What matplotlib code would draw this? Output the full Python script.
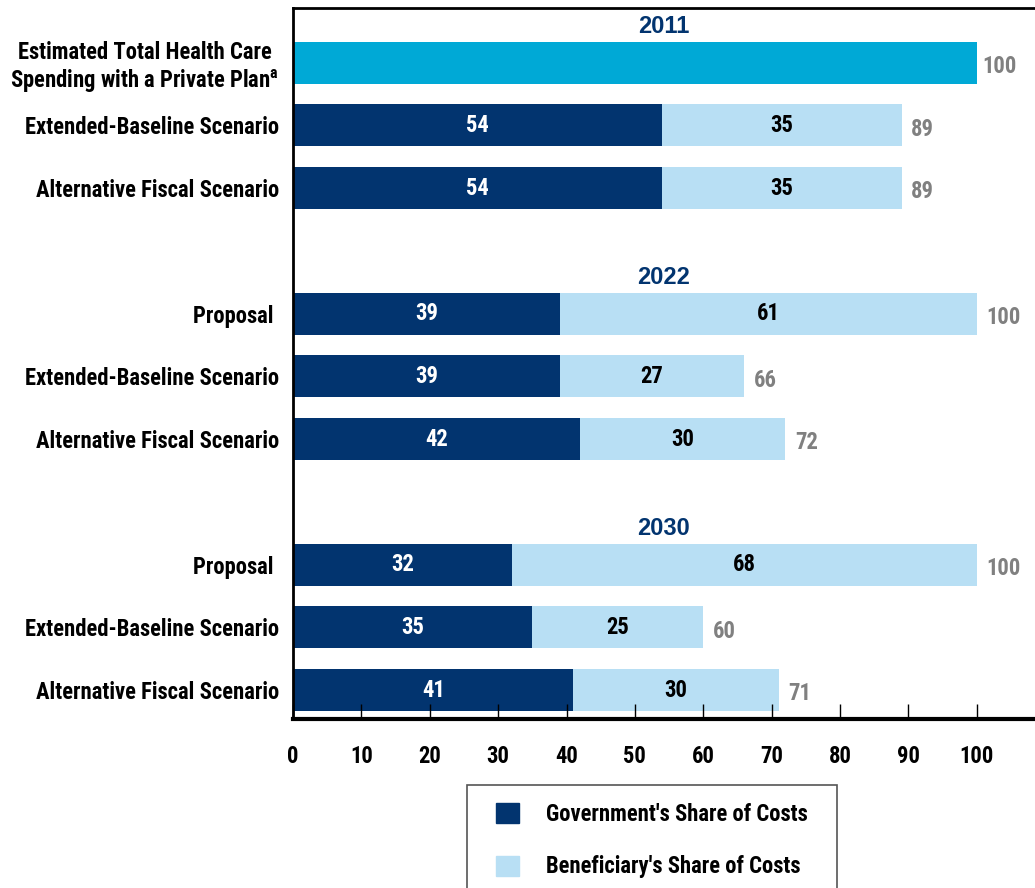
import matplotlib
matplotlib.use("Agg")
import matplotlib.pyplot as plt
from matplotlib.patches import Patch, Rectangle
from matplotlib import font_manager

names = set(f.name for f in font_manager.fontManager.ttflist)
if "Liberation Sans Narrow" in names:
    FONT = ["Liberation Sans Narrow", "DejaVu Sans"]
else:
    FONT = ["Roboto Condensed", "Liberation Sans", "DejaVu Sans"]

plt.rcParams['font.family'] = FONT
plt.rcParams['font.weight'] = 'bold'
plt.rcParams['mathtext.fontset'] = 'custom'
plt.rcParams['mathtext.rm'] = FONT[0] + ':bold'

# data
years = ["2011", "2022", "2030"]
row_labels = ["Estimated Total Health Care\nSpending with a Private Plan$^{\\mathrm{a}}$",
              "Extended-Baseline Scenario", "Alternative Fiscal Scenario",
              "Proposal ", "Extended-Baseline Scenario", "Alternative Fiscal Scenario",
              "Proposal ", "Extended-Baseline Scenario", "Alternative Fiscal Scenario"]
private_plan = 100
gov_share = [54, 54, 39, 39, 42, 32, 35, 41]
ben_share = [35, 35, 61, 27, 30, 68, 25, 30]

NAVY = "#02346f"
LIGHT = "#b8dff4"
CYAN = "#00a9d6"
GRAY = "#808080"
FS = 16.3

ypos = [0, 1, 2, 4, 5, 6, 8, 9, 10]
header_y = [-0.57, 3.42, 7.43]
h = 0.667

fig = plt.figure(figsize=(10.35, 8.88), dpi=100)
ax = fig.add_axes([293/1035, 1-719/888, 1-293/1035, 711/888])

# private plan bar
ax.barh(ypos[0], private_plan, height=h, color=CYAN)
ax.text(private_plan + 0.8, ypos[0] + 0.06, str(private_plan), color=GRAY,
        fontsize=FS, va='center', ha='left')

gy = ypos[1:]
ax.barh(gy, gov_share, height=h, color=NAVY)
ax.barh(gy, ben_share, left=gov_share, height=h, color=LIGHT)
for y, g, b in zip(gy, gov_share, ben_share):
    ax.text(g/2, y, str(g), color='white', fontsize=FS, va='center', ha='center')
    ax.text(g + b/2, y, str(b), color='black', fontsize=FS, va='center', ha='center')
    ax.text(g + b + 1.4, y + 0.06, str(g + b), color=GRAY, fontsize=FS,
            va='center', ha='left')

for yr, hy in zip(years, header_y):
    ax.text(0.5, hy, yr, transform=ax.get_yaxis_transform(), color=NAVY,
            fontsize=17, ha='center', va='center',
            family=["Liberation Sans", "DejaVu Sans"])

ax.set_ylim(10.46, -0.87)
ax.set_xlim(0, 108.5)
ax.set_xticks(range(0, 101, 10))
ax.tick_params(axis='x', direction='in', length=11, width=1, pad=19, labelsize=FS)
ax.set_yticks(ypos)
ax.set_yticklabels(row_labels, fontsize=FS, multialignment='center')
ax.tick_params(axis='y', length=0, pad=10)
ax.spines['right'].set_visible(False)
ax.spines['left'].set_linewidth(2)
ax.spines['top'].set_linewidth(2)
ax.spines['bottom'].set_linewidth(3)

# legend
fig.patches.append(Rectangle((467/1035, -0.05), 370/1035, 0.05 + 1-785/888,
                             transform=fig.transFigure, fill=False,
                             edgecolor='#555555', linewidth=1.2))
handles = [Patch(color=NAVY, label="Government's Share of Costs"),
           Patch(color=LIGHT, label="Beneficiary's Share of Costs")]
fig.legend(handles=handles, loc='upper left', bbox_to_anchor=(496/1035, 1-803/888),
           frameon=False, fontsize=FS, handlelength=1.0, handleheight=1.0,
           handletextpad=1.2, labelspacing=1.3, borderpad=0, borderaxespad=0)

fig.savefig("out.png", dpi=100)
